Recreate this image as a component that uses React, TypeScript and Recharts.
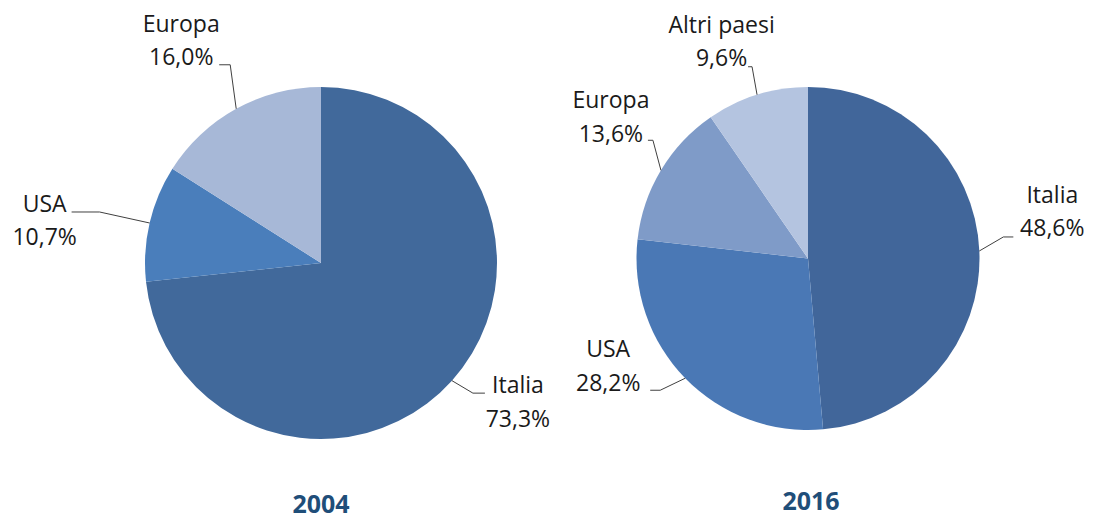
import React from 'react';
import { PieChart, Pie, Cell } from 'recharts';

const names2004 = ['Italia', 'USA', 'Europa'];
const values2004 = [73.3, 10.7, 16.0];
const colors2004 = ['#41699B', '#4A7EBB', '#A7B8D7'];

const names2016 = ['Italia', 'USA', 'Europa', 'Altri paesi'];
const values2016 = [48.6, 28.2, 13.6, 9.6];
const colors2016 = ['#41669A', '#4A78B5', '#7F9BC8', '#B4C4E0'];

const data2004 = names2004.map((name, i) => ({ name, value: values2004[i] }));
const data2016 = names2016.map((name, i) => ({ name, value: values2016[i] }));

// leader-line / label layout, relative to the slice's outer edge point
type LabelLayout = { elbow: [number, number]; stub: [number, number]; tx: number; ty: number };

const layout2004: Record<string, LabelLayout> = {
  Italia: { elbow: [21, 12.5], stub: [33, 12.5], tx: 66, ty: 12.5 },
  USA: { elbow: [-50, -11], stub: [-78, -11], tx: -105, ty: -11 },
  Europa: { elbow: [-6, -44], stub: [-17, -44], tx: -55, ty: -77 },
};

const layout2016: Record<string, LabelLayout> = {
  Italia: { elbow: [24, -14], stub: [34, -14], tx: 73, ty: -48 },
  USA: { elbow: [-25, 12], stub: [-35, 12], tx: -77, ty: -21 },
  Europa: { elbow: [-8, -30], stub: [-13, -30], tx: -50, ty: -62 },
  'Altri paesi': { elbow: [-5, -28], stub: [-9, -28], tx: -35.5, ty: -62 },
};

const RADIAN = Math.PI / 180;
const fmt = (v: number) => v.toFixed(1).replace('.', ',') + '%';

const makeLabel = (layout: Record<string, LabelLayout>) => (props: any) => {
  const { cx, cy, midAngle, outerRadius, name, value } = props;
  const ex = cx + outerRadius * Math.cos(-midAngle * RADIAN);
  const ey = cy + outerRadius * Math.sin(-midAngle * RADIAN);
  const l = layout[name];
  if (!l) return null;
  const pts = `${ex},${ey} ${ex + l.elbow[0]},${ey + l.elbow[1]} ${ex + l.stub[0]},${ey + l.stub[1]}`;
  return (
    <g>
      <polyline points={pts} fill="none" stroke="#404040" strokeWidth={1} />
      <text x={ex + l.tx} y={ey + l.ty} textAnchor="middle" fill="#1a1a1a" fontSize={23} fontFamily="'Open Sans', sans-serif">
        <tspan x={ex + l.tx}>{name}</tspan>
        <tspan x={ex + l.tx} dy={33.5}>{fmt(value)}</tspan>
      </text>
    </g>
  );
};

const titleStyle: React.CSSProperties = {
  position: 'absolute',
  width: 200,
  textAlign: 'center',
  fontFamily: "'Open Sans', sans-serif",
  fontWeight: 700,
  fontSize: 25,
  color: '#1F4E79',
  lineHeight: '22px',
};

export default function App() {
  return (
    <div style={{ position: 'absolute', left: 0, top: 0, width: 1094, height: 521, background: '#fff', overflow: 'hidden' }}>
      <PieChart width={1094} height={521} margin={{ top: 0, right: 0, bottom: 0, left: 0 }}>
        <Pie
          data={data2004}
          dataKey="value"
          nameKey="name"
          cx={321}
          cy={263}
          outerRadius={176}
          startAngle={90}
          endAngle={-270}
          stroke="none"
          labelLine={false}
          label={makeLabel(layout2004)}
          isAnimationActive={false}
        >
          {data2004.map((d, i) => (
            <Cell key={d.name} fill={colors2004[i]} />
          ))}
        </Pie>
        <Pie
          data={data2016}
          dataKey="value"
          nameKey="name"
          cx={808}
          cy={258.5}
          outerRadius={171.5}
          startAngle={90}
          endAngle={-270}
          stroke="none"
          labelLine={false}
          label={makeLabel(layout2016)}
          isAnimationActive={false}
        >
          {data2016.map((d, i) => (
            <Cell key={d.name} fill={colors2016[i]} />
          ))}
        </Pie>
      </PieChart>
      <div style={{ ...titleStyle, left: 221, top: 492 }}>2004</div>
      <div style={{ ...titleStyle, left: 711, top: 489 }}>2016</div>
    </div>
  );
}
